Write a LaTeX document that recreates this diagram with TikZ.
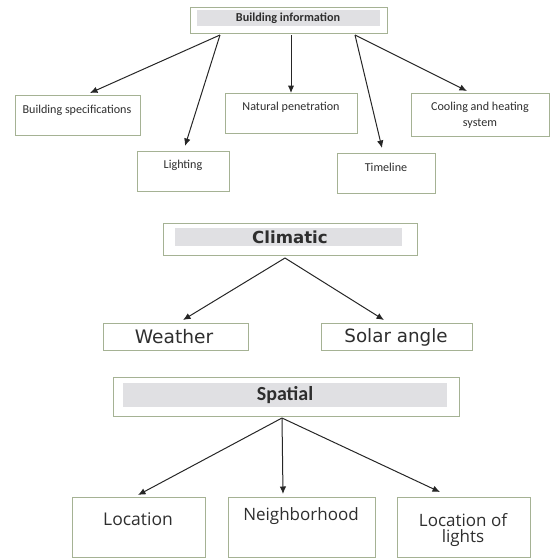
\documentclass[tikz,border=0pt]{standalone}
\usepackage{fontspec}
\setmainfont{Carlito}
\newfontfamily\djv{DejaVu Sans}
\newfontfamily\opn{Open Sans}
\usetikzlibrary{arrows.meta}
\definecolor{boxline}{RGB}{165,178,148}
\definecolor{barfill}{RGB}{224,224,227}
\tikzset{
  boxnode/.style={draw=boxline, line width=1.2pt, inner sep=0pt},
  barnode/.style={fill=barfill, draw=none, inner sep=0pt},
  txt/.style={inner sep=0pt, align=center, text=black!82},
  conn/.style={draw=black!85, line width=1pt, -{Latex[length=7.5pt,width=6.5pt]}},
}
\newcommand{\boxat}[5]{\node[boxnode, minimum width=#4-#2, minimum height=#5-#3, anchor=north west] (#1) at (#2,#3) {};}
\newcommand{\barat}[5]{\node[barnode, minimum width=#4-#2, minimum height=#5-#3, anchor=north west] (#1) at (#2,#3) {};}
\begin{document}
\begin{tikzpicture}[x=1pt,y=-1pt]
\useasboundingbox (0,0) rectangle (550,558);
% Building information group
\boxat{bi}{190}{7}{387}{33}
\barat{bib}{197}{10}{380}{26}
\node[txt, font=\fontsize{12.2}{14}\selectfont\bfseries] (bit) at (288,18) {Building information};
\boxat{bs}{15}{95}{140}{135}
\node[txt, font=\fontsize{12.1}{14}\selectfont] (bst) at (77,110) {Building specifications};
\boxat{li}{137}{151}{229}{191}
\node[txt, font=\fontsize{12.1}{14}\selectfont] (lit) at (183,165) {Lighting};
\boxat{np}{225}{93}{357}{133}
\node[txt, font=\fontsize{12.1}{14}\selectfont] (npt) at (291,107) {Natural penetration};
\boxat{tl}{337}{153}{435}{193}
\node[txt, font=\fontsize{12.1}{14}\selectfont] (tlt) at (386,167) {Timeline};
\boxat{ch}{411}{93}{549}{136}
\node[txt, font=\fontsize{12.1}{16}\selectfont] (cht) at (480,115) {Cooling and heating\\system};
\coordinate (biL) at (220,35);
\coordinate (biM) at (291,35);
\coordinate (biR) at (355,35);
\coordinate (bsA) at (90,93);
\coordinate (liA) at (185,146);
\coordinate (npA) at (291,93);
\coordinate (tlA) at (382,148);
\coordinate (chA) at (467,91);
\draw[conn] (biL) -- (bsA);
\draw[conn] (biL) -- (liA);
\draw[conn] (biM) -- (npA);
\draw[conn] (biR) -- (tlA);
\draw[conn] (biR) -- (chA);
% Climatic group
\boxat{cl}{163}{223}{417}{255}
\barat{clb}{175}{228}{402}{246}
\node[txt, font=\djv\fontsize{16.6}{18}\selectfont\bfseries] (clt) at (290,237) {Climatic};
\boxat{we}{103}{323}{248}{350}
\node[txt, font=\djv\fontsize{18.6}{20}\selectfont] (wet) at (174,337) {Weather};
\boxat{sa}{321}{323}{472}{350}
\node[txt, font=\djv\fontsize{18.3}{20}\selectfont] (sat) at (396,337) {Solar angle};
\coordinate (clS) at (285,258);
\coordinate (weA) at (183,320);
\coordinate (saA) at (384,320);
\draw[conn] (clS) -- (weA);
\draw[conn] (clS) -- (saA);
% Spatial group
\boxat{sp}{113}{377}{459}{416}
\barat{spb}{123}{383}{447}{407}
\node[txt, font=\fontsize{20}{22}\selectfont\bfseries] (spt) at (285,395) {Spatial};
\boxat{lo}{72}{497}{205}{557}
\node[txt, font=\opn\fontsize{17.5}{20}\selectfont] (lot) at (138,519) {Location};
\boxat{ne}{228}{497}{375}{557}
\node[txt, font=\opn\fontsize{17}{20}\selectfont] (net) at (301,516) {Neighborhood};
\boxat{ll}{397}{497}{530}{557}
\node[txt, font=\opn\fontsize{17}{16}\selectfont] (llt) at (463,530) {Location of\\lights};
\coordinate (spS) at (282,418);
\coordinate (loA) at (138,495);
\coordinate (neA) at (283,494);
\coordinate (llA) at (440,492);
\draw[conn] (spS) -- (loA);
\draw[conn] (spS) -- (neA);
\draw[conn] (spS) -- (llA);
\end{tikzpicture}
\end{document}
